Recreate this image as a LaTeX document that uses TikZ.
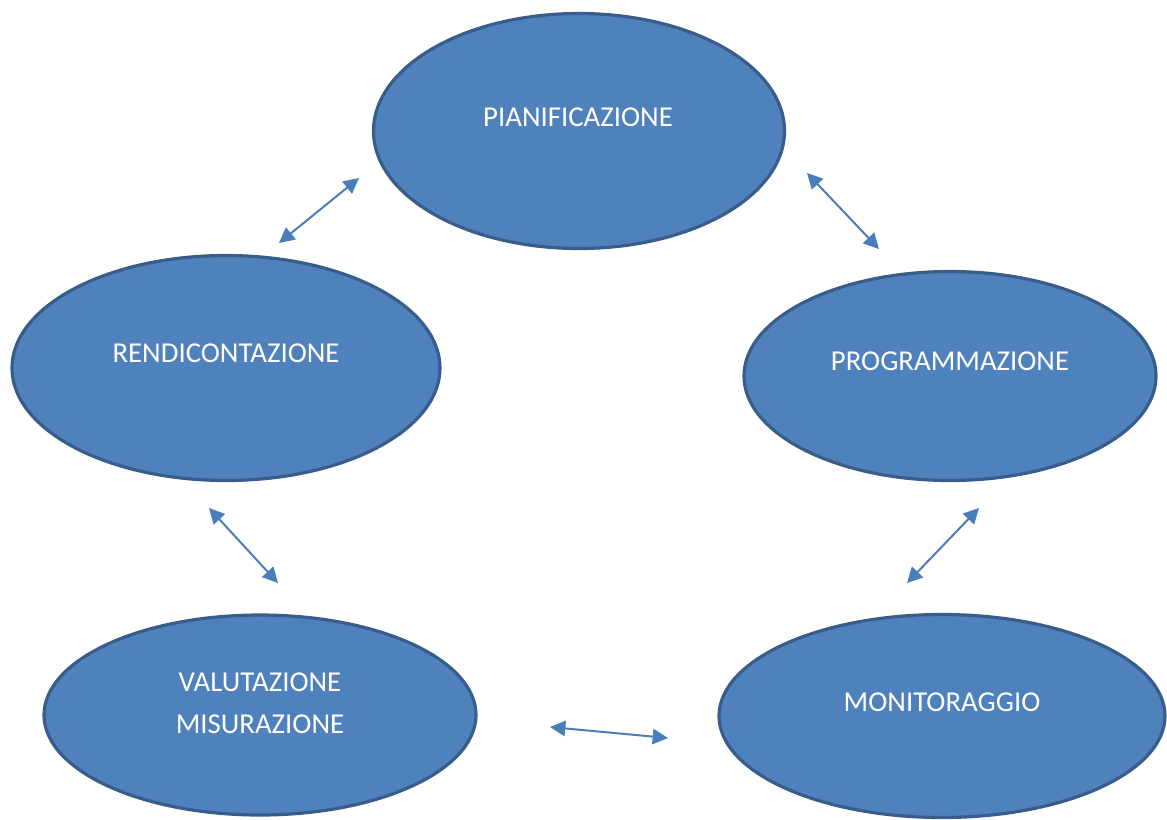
\documentclass[tikz,border=0pt]{standalone}
\usepackage{fontspec}
\setmainfont{Carlito}
\usetikzlibrary{shapes.geometric,arrows.meta}
\definecolor{efill}{HTML}{4F81BD}
\definecolor{edraw}{HTML}{385D8A}
\definecolor{arrcol}{HTML}{4A7EBB}
\tikzset{
  phase/.style={ellipse, fill=efill, draw=edraw, line width=2.4pt, inner sep=0pt},
  lbl/.style={text=white, font=\fontsize{21.6pt}{31.5pt}\selectfont, align=center, inner sep=0pt},
  link/.style={arrcol, line width=1.5pt, {Triangle[length=11.5pt,width=11.5pt]}-{Triangle[length=11.5pt,width=11.5pt]}}
}
\begin{document}
\begin{tikzpicture}[x=0.75pt,y=-0.75pt]
\useasboundingbox (0,0) rectangle (1167,819);
% ellipses (centre, path size = outer size minus border)
\node[phase, minimum width=411*0.75pt, minimum height=235*0.75pt] (pian) at (579,131) {};
\node[phase, minimum width=428*0.75pt, minimum height=225*0.75pt] (rend) at (226,368) {};
\node[phase, minimum width=412*0.75pt, minimum height=209*0.75pt] (prog) at (950,376) {};
\node[phase, minimum width=432*0.75pt, minimum height=200*0.75pt] (valu) at (260,715) {};
\node[phase, minimum width=446*0.75pt, minimum height=203*0.75pt] (moni) at (942,716) {};
% labels
\node[lbl] (tpian) at (578,117) {PIANIFICAZIONE};
\node[lbl] (trend) at (226,353) {RENDICONTAZIONE};
\node[lbl] (tprog) at (950,361) {PROGRAMMAZIONE};
\node[lbl] (tvalu) at (260,703) {VALUTAZIONE\\MISURAZIONE};
\node[lbl] (tmoni) at (942,702) {MONITORAGGIO};
% arrow end points
\coordinate (a1) at (279,243); \coordinate (b1) at (359,178);
\coordinate (a2) at (807,173); \coordinate (b2) at (879,249);
\coordinate (a3) at (979,508); \coordinate (b3) at (907,583);
\coordinate (a4) at (668,738); \coordinate (b4) at (550,727);
\coordinate (a5) at (278,583); \coordinate (b5) at (209,508);
\draw[link] (a1) -- (b1);
\draw[link] (a2) -- (b2);
\draw[link] (a3) -- (b3);
\draw[link] (a4) -- (b4);
\draw[link] (a5) -- (b5);
\end{tikzpicture}
\end{document}
